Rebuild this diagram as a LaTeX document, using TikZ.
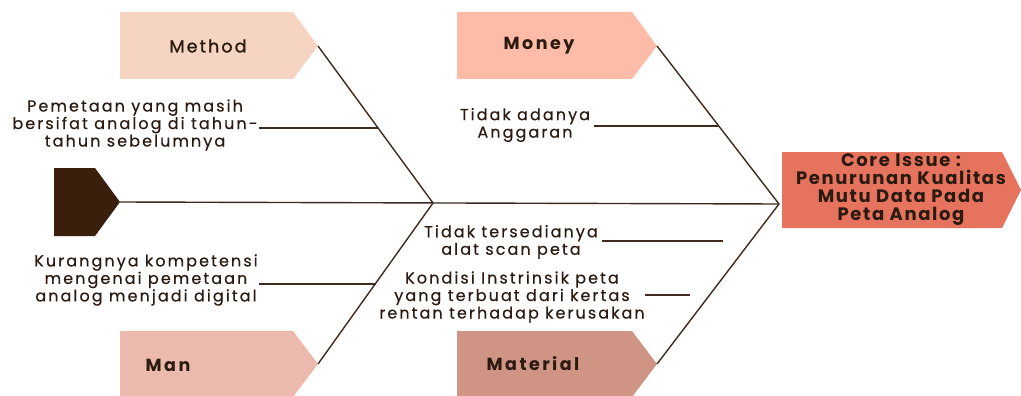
\documentclass[tikz,border=0pt]{standalone}
\usepackage{fontspec}
\setmainfont{Poppins}[LetterSpace=14]
\newfontfamily\bodyfont{Poppins}[LetterSpace=13,FakeBold=0.4]
\newfontfamily\medfont{Poppins}[LetterSpace=12,FakeBold=1.2]
\newfontfamily\corefont{Poppins}[LetterSpace=9]
\definecolor{methodc}{HTML}{F5D5C1}
\definecolor{moneyc}{HTML}{FDBCA8}
\definecolor{manc}{HTML}{EBBAAD}
\definecolor{materialc}{HTML}{D09485}
\definecolor{corec}{HTML}{E5735D}
\definecolor{headc}{HTML}{3A1F0D}
\definecolor{linec}{HTML}{3E2A1E}
\definecolor{textc}{HTML}{2B1A10}
\begin{document}
\begin{tikzpicture}[x=1pt,y=-1pt,
  bone/.style={draw=linec,line width=1.4pt},
  txt/.style={text=textc,align=center,font=\bodyfont\fontsize{16}{17.5}\selectfont,inner sep=0pt},
  lbl/.style={text=textc,font=\fontsize{17.5}{18}\selectfont\bfseries,inner sep=0pt},
  corelbl/.style={text=textc,align=center,font=\corefont\fontsize{18}{18}\selectfont\bfseries,inner sep=0pt}]
\useasboundingbox (0,0) rectangle (1021,396);
% boxes
\fill[methodc] (120,12) -- (293,12) -- (318,46) -- (293,79) -- (120,79) -- cycle;
\fill[moneyc] (457,12) -- (632,12) -- (657,46) -- (632,79) -- (457,79) -- cycle;
\fill[manc] (120,331) -- (293,331) -- (318,364) -- (293,397) -- (120,397) -- cycle;
\fill[materialc] (457,331) -- (632,331) -- (657,364) -- (632,397) -- (457,397) -- cycle;
\fill[headc] (54,168) -- (95,168) -- (120,202) -- (95,236) -- (54,236) -- cycle;
\fill[corec] (782,152) -- (1002,152) -- (1021,190) -- (1002,228) -- (782,228) -- cycle;
% key points
\coordinate (methodtip) at (318,46);
\coordinate (moneytip) at (657,46);
\coordinate (mantip) at (318,364);
\coordinate (materialtip) at (657,364);
\coordinate (headtip) at (120,202);
\coordinate (j1) at (433,203);
\coordinate (j2) at (779,204);
\coordinate (msub) at (378,128);
\coordinate (mosub) at (718,126);
\coordinate (mansub) at (376,284);
\coordinate (mat1sub) at (723,241);
\coordinate (mat2sub) at (690,295);
% labels
\node[lbl,font=\medfont\fontsize{17.5}{18}\selectfont] (method) at (208,46) {Method};
\node[lbl] (money) at (539,46) {Money};
\node[lbl] (man) at (168,365) {Man};
\node[lbl] (material) at (533,364) {Material};
\node[corelbl] (core) at (901,190) {Core Issue :\\Penurunan Kualitas\\Mutu Data Pada\\Peta Analog};
% texts
\node[txt] (mtext) at (135,125) {Pemetaan yang masih\\bersifat analog di tahun-\\tahun sebelumnya};
\node[txt] (motext) at (525,125) {Tidak adanya\\Anggaran};
\node[txt] (mantext) at (146,280) {Kurangnya kompetensi\\mengenai pemetaan\\analog menjadi digital};
\node[txt] (mat1text) at (511,242) {Tidak tersedianya\\alat scan peta};
\node[txt] (mat2text) at (512,297) {Kondisi Instrinsik peta\\yang terbuat dari kertas\\rentan terhadap kerusakan};
% bones
\draw[bone] (headtip) -- (j2);
\draw[bone] (methodtip) -- (j1);
\draw[bone] (mantip) -- (j1);
\draw[bone] (moneytip) -- (j2);
\draw[bone] (materialtip) -- (j2);
\draw[bone] ([xshift=1pt]mtext.east |- msub) -- (msub);
\draw[bone] ([xshift=4pt]motext.east |- mosub) -- (mosub);
\draw[bone] ([xshift=1pt]mantext.east |- mansub) -- (mansub);
\draw[bone] ([xshift=4pt]mat1text.east |- mat1sub) -- (mat1sub);
\draw[bone] (mat2text.east |- mat2sub) -- (mat2sub);
\end{tikzpicture}
\end{document}
